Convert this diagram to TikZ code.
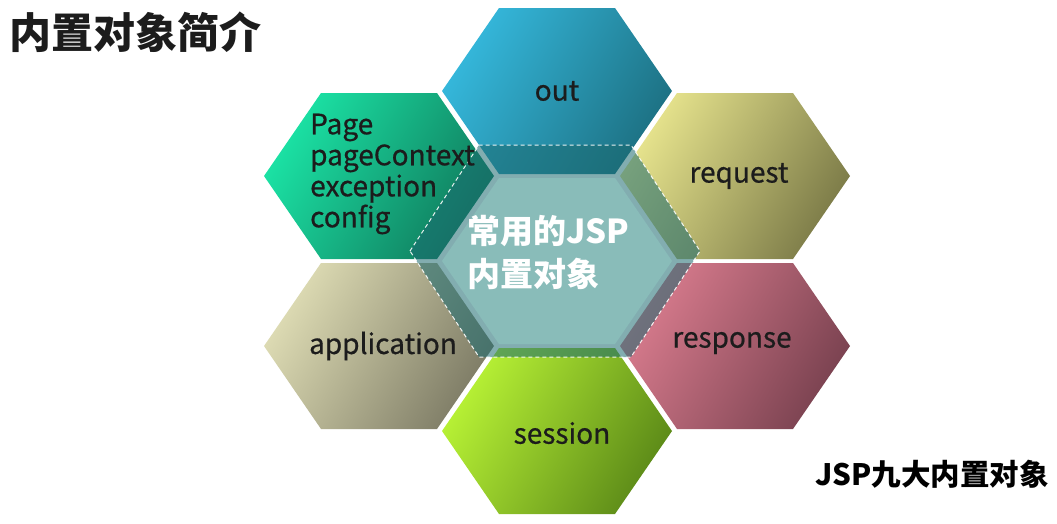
\documentclass[tikz,border=0pt]{standalone}
\usepackage{fontspec}
\setmainfont{Noto Sans CJK SC}
\newfontfamily\lblfont{Noto Sans CJK SC}[FakeBold=0.6]
\usetikzlibrary{positioning}

\definecolor{outlt}{HTML}{35B8DC}
\definecolor{outdk}{HTML}{1D7183}
\definecolor{pagelt}{HTML}{1BE3A5}
\definecolor{pagedk}{HTML}{107A5C}
\definecolor{reqlt}{HTML}{E8E58E}
\definecolor{reqdk}{HTML}{7C7B48}
\definecolor{applt}{HTML}{DEDCB4}
\definecolor{appdk}{HTML}{7E7C66}
\definecolor{resplt}{HTML}{D97C8E}
\definecolor{respdk}{HTML}{7A4250}
\definecolor{sesslt}{HTML}{B8F235}
\definecolor{sessdk}{HTML}{5C8A18}
\definecolor{innerteal}{HTML}{89BCB9}
\definecolor{ringteal}{HTML}{1B6A70}
\definecolor{lblink}{HTML}{1C1C1C}

\begin{document}
\begin{tikzpicture}[
    x=1pt, y=1pt,
    hexcell/.pic={\path[pic actions] (-115,0) -- (-58,83) -- (58,83) -- (115,0) -- (58,-83) -- (-58,-83) -- cycle;},
    ringcell/.pic={\path[pic actions] (-145,0) -- (-76,106) -- (76,106) -- (145,0) -- (76,-106) -- (-76,-106) -- cycle;},
    grad/.style 2 args={top color=#1, bottom color=#2, shading angle=60},
    lbl/.style={font=\lblfont\fontsize{28}{31}\selectfont, text=lblink, inner sep=0pt},
    ring/.style={fill=ringteal, fill opacity=0.55, draw=white, draw opacity=0.9,
                 dash pattern=on 4pt off 3pt, line width=1pt},
    node distance=170pt and 178pt
]
    \useasboundingbox (0,0) rectangle (1057,-523);

    \coordinate (mid) at (557,-261);
    \coordinate[above=of mid] (outc);
    \coordinate[below=of mid] (sessc);
    \coordinate[above left=85pt and 178pt of mid] (pagec);
    \coordinate[below left=85pt and 178pt of mid] (appc);
    \coordinate[above right=85pt and 178pt of mid] (reqc);
    \coordinate[below right=85pt and 178pt of mid] (respc);

    \pic[grad={outlt}{outdk}] at (outc) {hexcell};
    \pic[grad={pagelt}{pagedk}] at (pagec) {hexcell};
    \pic[grad={reqlt}{reqdk}] at (reqc) {hexcell};
    \pic[grad={applt}{appdk}] at (appc) {hexcell};
    \pic[grad={resplt}{respdk}] at (respc) {hexcell};
    \pic[grad={sesslt}{sessdk}] at (sessc) {hexcell};

    \pic[ring] at ([shift={(-2,10)}]mid) {ringcell};
    \pic[fill=innerteal] at (mid) {hexcell};

    \node[lbl] (out) at (outc) {out};
    \node[lbl] (request) at ([shift={(4,0)}]reqc) {request};
    \node[lbl] (response) at ([shift={(-3,3)}]respc) {response};
    \node[lbl] (session) at ([shift={(5,-2)}]sessc) {session};
    \node[lbl] (application) at ([shift={(4,0)}]appc) {application};
    \node[lbl, align=left, anchor=west] (others) at (310,-174)
        {Page\\pageContext\\exception\\config};

    \node[font=\bfseries\fontsize{33}{43}\selectfont, text=white, align=left,
          anchor=west, inner sep=0pt] (core) at (467,-252) {常用的JSP\\内置对象};

    \node[font=\bfseries\fontsize{42}{48}\selectfont, text=lblink, anchor=west,
          inner sep=0pt] (title) at (9,-32) {内置对象简介};
    \node[font=\bfseries\fontsize{29.5}{34}\selectfont, text=black, anchor=east,
          inner sep=0pt] (caption) at (1049,-474) {JSP九大内置对象};
\end{tikzpicture}
\end{document}
